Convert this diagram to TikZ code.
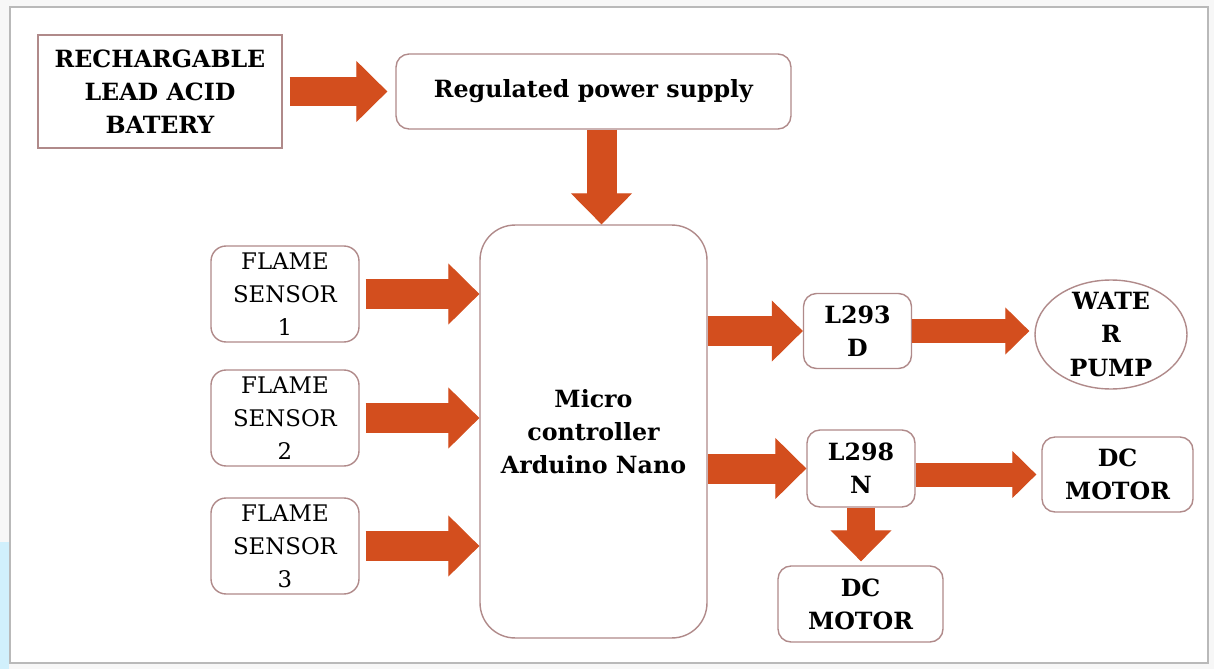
\documentclass[tikz,border=0pt]{standalone}
\usepackage{fontspec}
\setmainfont{DejaVu Serif}
\usepackage{tikz}
\usetikzlibrary{arrows.meta, shapes.geometric}
\definecolor{arrowred}{RGB}{211,78,30}
\definecolor{boxline}{RGB}{176,138,138}
\definecolor{frameline}{RGB}{185,185,185}

\begin{document}
\begin{tikzpicture}[
            x=0.02cm, y=-0.02cm, % one unit is one pixel of the sheet
            block/.style={draw=boxline, fill=white, align=center, inner sep=0pt, line width=0.8pt}, % plain box
            roundblock/.style={block, rounded corners=0.26cm}, % box with round corners
            boldtext/.style={font=\fontsize{13.5}{18.8}\selectfont\bfseries},
            plaintext/.style={font=\fontsize{13}{18.8}\selectfont},
            fatarrow/.style={draw=arrowred, line width=0.6cm, -{Triangle[width=1.22cm, length=0.62cm, line width=0.6pt]}}, % wide block arrow
            thinarrow/.style={draw=arrowred, line width=0.48cm, -{Triangle[width=0.94cm, length=0.48cm, line width=0.6pt]}} % narrow block arrow
            ]

        % sheet
        \useasboundingbox (0,0) rectangle (1214,669);
        \fill[gray!6] (0,0) rectangle (1214,669);
        \fill[cyan!18] (0,542) rectangle (9,669);
        \draw[frameline, fill=white, line width=1.2pt] (10,7) rectangle (1208,663);

        % power side
        \node[block, boldtext, minimum width=4.88cm, minimum height=2.26cm] (battery) at (160,91.5) {RECHARGABLE\\LEAD ACID\\BATERY};
        \node[roundblock, boldtext, minimum width=7.9cm, minimum height=1.5cm] (supply) at (593.5,91.5) {Regulated power supply};

        % controller
        \node[roundblock, boldtext, rounded corners=0.7cm, minimum width=4.54cm, minimum height=8.26cm] (nano) at (593.5,431.5) {Micro\\controller\\Arduino Nano};

        % sensors
        \node[roundblock, plaintext, rounded corners=0.3cm, minimum width=2.96cm, minimum height=1.92cm] (flame1) at (285,294) {FLAME\\SENSOR\\1};
        \node[roundblock, plaintext, rounded corners=0.3cm, minimum width=2.96cm, minimum height=1.92cm] (flame2) at (285,418) {FLAME\\SENSOR\\2};
        \node[roundblock, plaintext, rounded corners=0.3cm, minimum width=2.96cm, minimum height=1.92cm] (flame3) at (285,546) {FLAME\\SENSOR\\3};

        % drivers and loads
        \node[roundblock, boldtext, minimum width=2.16cm, minimum height=1.5cm] (driverD) at (857.5,331) {L293\\D};
        \node[block, ellipse, minimum width=3.04cm, minimum height=2.18cm, label={[boldtext, align=center]center:WATE\\R\\PUMP}] (pump) at (1111,334.5) {};
        \node[roundblock, boldtext, minimum width=2.16cm, minimum height=1.54cm] (driverN) at (861,468.5) {L298\\N};
        \node[roundblock, boldtext, minimum width=3.02cm, minimum height=1.5cm] (motorA) at (1117.5,474.5) {DC\\MOTOR};
        \node[roundblock, boldtext, minimum width=3.3cm, minimum height=1.52cm] (motorB) at (860.5,604) {DC\\MOTOR};

        % block arrows
        \draw[fatarrow] ([xshift=0.14cm]battery.east) -- ([xshift=-0.16cm]supply.west);
        \draw[fatarrow] ([xshift=0.16cm]supply.south) -- ([xshift=0.16cm]supply.south |- nano.north);
        \foreach \s in {flame1, flame2, flame3}
            \draw[fatarrow] ([xshift=0.12cm]\s.east) -- (\s.east -| nano.west);
        \draw[fatarrow] (nano.east |- driverD.west) -- (driverD.west);
        \draw[fatarrow] (nano.east |- driverN.west) -- (driverN.west);
        \draw[thinarrow] (driverD.east) -- ([xshift=-0.1cm]driverD.east -| pump.west);
        \draw[thinarrow] (driverN.east |- motorA.west) -- ([xshift=-0.1cm]motorA.west);
        \draw[fatarrow, line width=0.56cm] (driverN.south) -- ([yshift=0.08cm]driverN.south |- motorB.north);

\end{tikzpicture}
\end{document}
